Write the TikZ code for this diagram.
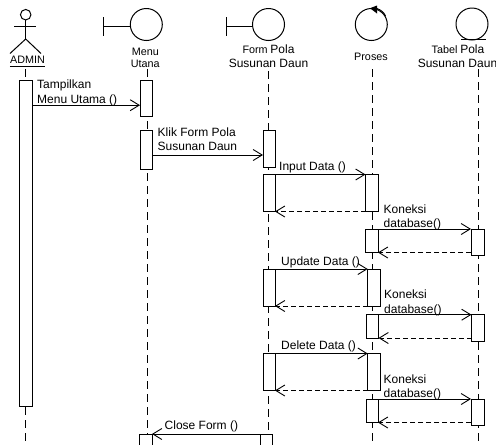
\documentclass[tikz,border=0pt]{standalone}
\usepackage{fontspec}
\setmainfont{Liberation Sans}
\usetikzlibrary{arrows.meta}
\newcommand{\sm}{\fontsize{10.8}{12}\selectfont}
\newcommand{\bg}{\fontsize{12}{14}\selectfont}
\newcommand{\actv}[5]{%
  \pgfmathsetmacro{\aw}{#4-#2}\pgfmathsetmacro{\ah}{#5-#3}%
  \pgfmathsetmacro{\acx}{(#4+#2)/2}\pgfmathsetmacro{\acy}{(#5+#3)/2}%
  \node[actbox,minimum width=\aw pt,minimum height=\ah pt] (#1) at (\acx,\acy) {};}
\tikzset{
  ln/.style={draw=black,line width=1pt},
  life/.style={ln,dash pattern=on 8pt off 5pt},
  actbox/.style={draw=black,line width=1pt,fill=white,inner sep=0pt,outer sep=0pt,rectangle},
  msg/.style={ln,-{Straight Barb[length=9pt,width=11pt,line width=0.9pt]}},
  ret/.style={ln,dash pattern=on 5pt off 3pt,-{Straight Barb[length=9pt,width=11pt,line width=0.9pt]}},
  lab/.style={anchor=base west,inner sep=0pt,font=\bg,text=black},
  head/.style={anchor=base,inner sep=0pt,text=black},
  ico/.style={circle,draw=black,line width=1pt,minimum size=32pt,inner sep=0pt,outer sep=0pt}
}
\begin{document}
\begin{tikzpicture}[x=1pt,y=-1pt]
\useasboundingbox (0,0) rectangle (496,445);
\clip (0,0) rectangle (496,445);
% actor
\node[circle,draw=black,line width=1pt,minimum size=10.5pt,inner sep=0pt,outer sep=0pt] (ahead) at (25.7,14.7) {};
\coordinate (ahip) at (25.7,39);
\coordinate (aarmL) at (14,26.5);
\coordinate (aarmR) at (36,26.5);
\coordinate (alegL) at (10,53.5);
\coordinate (alegR) at (41,53.5);
\draw[ln] (ahead.south) -- (ahip);
\draw[ln] (aarmL) -- (aarmR);
\draw[ln] (alegL) -- (ahip) -- (alegR);
\node[head,font=\sm] (admin) at (27.5,63.5) {ADMIN};
\draw[ln] (admin.base west |- 0,66) -- (admin.base east |- 0,66);
% boundary icons
\node[ico] (menuC) at (146.3,24.5) {};
\coordinate (menuB1) at (103.5,17);
\coordinate (menuB2) at (103.5,36);
\coordinate (menuBm) at (103.5,26);
\draw[ln] (menuB1) -- (menuB2);
\draw[ln] (menuBm) -- (menuC.west |- menuBm);
\node[ico] (formC) at (268.5,24.5) {};
\coordinate (formB1) at (226,17);
\coordinate (formB2) at (226,36);
\coordinate (formBm) at (226,26);
\draw[ln] (formB1) -- (formB2);
\draw[ln] (formBm) -- (formC.west |- formBm);
% control icon
\node[ico] (procC) at (371.3,24.5) {};
\coordinate (procA1) at (370,8.2);
\coordinate (procA2) at (377,5.5);
\fill[black] (procA1) -- (procA2) -- (377,13.5) -- cycle;
% entity icon
\node[ico] (tabC) at (472,24) {};
\coordinate (tabL) at (461,39.5);
\coordinate (tabR) at (486,39.5);
\draw[ln] (tabL) -- (tabR);
% labels
\node[head,font=\sm] (menuL1) at (145.3,55) {Menu};
\node[head,font=\sm] (menuL2) at (145.3,67) {Utana};
\node[head] (formL1) at (268.5,53.5) {{\sm Form} {\bg Pola}};
\node[head,font=\bg] (formL2) at (268.5,67.7) {Susunan Daun};
\node[head,font=\sm] (procL) at (371,60.7) {Proses};
\node[head] (tabL1) at (458,53.5) {{\sm Tabel} {\bg Pola}};
\node[head,font=\bg] (tabL2) at (457.5,67.7) {Susunan Daun};
% lifelines
\coordinate (admT) at (25.5,69); \coordinate (admE) at (25.5,445);
\coordinate (menuT) at (147,69); \coordinate (menuE) at (147,445);
\coordinate (formT) at (268.5,71); \coordinate (formE) at (268.5,445);
\coordinate (procT2) at (372,69); \coordinate (procE) at (372,445);
\coordinate (tabT) at (478.5,69); \coordinate (tabE) at (478.5,445);
\draw[life] (admT) -- (admE);
\draw[life] (menuT) -- (menuE);
\draw[life] (formT) -- (formE);
\draw[life] (procT2) -- (procE);
\draw[life] (tabT) -- (tabE);
% activations
\actv{admA}{19.3}{80}{32}{406.5}
\actv{menuA}{140}{80}{152.5}{116.5}
\actv{menuB}{140}{130.5}{152.5}{169}
\actv{formA}{263}{130.5}{275}{167.5}
\actv{formB}{263}{174.5}{275}{211.5}
\actv{procA}{365.5}{174.5}{378.3}{211.5}
\actv{procS1}{365.5}{229}{378}{252.5}
\actv{tabA}{471}{229}{484}{255}
\actv{formC2}{263}{269}{275}{306}
\actv{procB}{367.7}{269}{380}{306}
\actv{procS2}{366.5}{314.7}{378.5}{338}
\actv{tabB}{471.5}{314.7}{484}{341}
\actv{formD}{263}{353.5}{275}{390.5}
\actv{procD}{367.7}{353.5}{380}{390.5}
\actv{procS3}{366}{399}{378}{422.5}
\actv{tabD}{471}{399}{484}{425.5}
\actv{menuZ}{139.5}{434}{152}{460}
\actv{formZ}{260}{434}{272.5}{460}
% messages
\coordinate (y1) at (0,105.2);
\coordinate (y2) at (0,155);
\draw[msg] (admA.east |- y1) -- (menuA.west |- y1);
\draw[msg] (menuB.east |- y2) -- (formA.west |- y2);
\draw[msg] (formB.north east) -- (procA.north west);
\draw[ret] (procA.south west) -- (formB.south east);
\draw[msg] (procS1.north east) -- (tabA.north west);
\draw[ret] (procS1.south east -| tabA.west) -- (procS1.south east);
\draw[msg] (formC2.north east) -- (procB.north west);
\draw[ret] (procB.south west) -- (formC2.south east);
\draw[msg] (procS2.north east) -- (tabB.north west);
\draw[ret] (procS2.south east -| tabB.west) -- (procS2.south east);
\draw[msg] (formD.north east) -- (procD.north west);
\draw[ret] (procD.south west) -- (formD.south east);
\draw[msg] (procS3.north east) -- (tabD.north west);
\draw[ret] (procS3.south east -| tabD.west) -- (procS3.south east);
\draw[msg] (formZ.north west) -- (menuZ.north east);
% control arc
\draw[ln] (377,8.5) .. controls (381,10) and (384,12.5) .. (385.5,16);
% message labels
\node[lab] (t1) at (37,88.5) {Tampilkan};
\node[lab] (t2) at (37,103) {Menu Utama ()};
\node[lab] (t3) at (157.5,136) {Klik Form Pola};
\node[lab] (t4) at (157.5,150) {Susunan Daun};
\node[lab] (t5) at (279,170) {Input Data ()};
\node[lab] (t6) at (383.5,213) {Koneksi};
\node[lab] (t7) at (383.5,227) {database()};
\node[lab] (t8) at (281,265) {Update Data ()};
\node[lab] (t9) at (384,298) {Koneksi};
\node[lab] (t10) at (384,313) {database()};
\node[lab] (t11) at (281,349) {Delete Data ()};
\node[lab] (t12) at (383.5,383) {Koneksi};
\node[lab] (t13) at (383.5,397) {database()};
\node[lab] (t14) at (164.5,429) {Close Form ()};
\end{tikzpicture}
\end{document}
